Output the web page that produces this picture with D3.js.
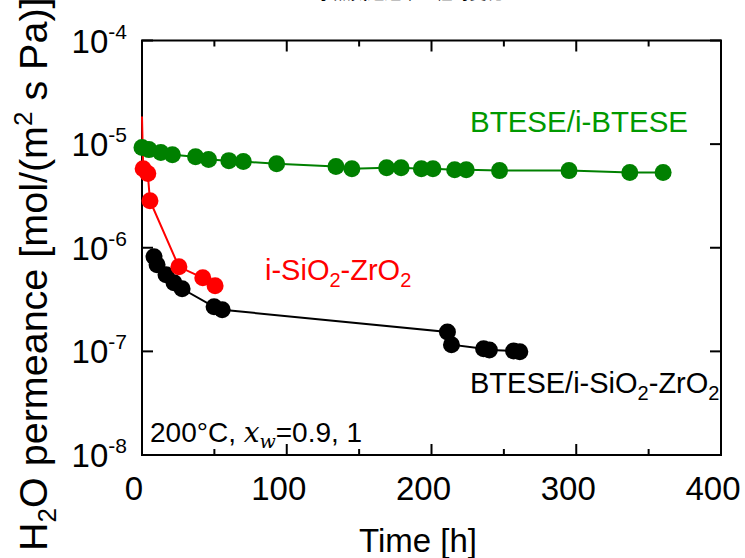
<!DOCTYPE html>
<html>
<head>
<meta charset="utf-8">
<script src="https://cdn.jsdelivr.net/npm/d3@7/dist/d3.min.js"></script>
<style>
  body { margin: 0; background: #fff; }
  svg { display: block; font-family: "Liberation Sans", Arial, sans-serif; }
</style>
</head>
<body>
<svg id="chart" width="745" height="558"></svg>
<script>
// time [h] and H2O permeance [mol/(m2 s Pa)]
var greenTime = [0, 4.8, 13, 21, 37, 46, 60, 70, 93, 134, 145, 169, 179, 193, 201, 216, 224, 247, 295, 337, 360],
    greenPerm = [9.3e-6, 8.85e-6, 8.3e-6, 7.9e-6, 7.57e-6, 7.1e-6, 6.93e-6, 6.78e-6, 6.48e-6, 6.07e-6, 5.8e-6,
                 5.93e-6, 5.93e-6, 5.8e-6, 5.8e-6, 5.67e-6, 5.67e-6, 5.55e-6, 5.55e-6, 5.31e-6, 5.31e-6];

var redTime = [0, 0.8, 4, 5.5, 25.5, 42, 50.5],
    redPerm = [1.85e-5, 5.8e-6, 5.2e-6, 2.84e-6, 6.55e-7, 5.13e-7, 4.3e-7];

var blackTime = [8.3, 10.4, 16.6, 22.1, 27.7, 49.8, 55.4, 211, 213.8, 236, 240, 256.7, 261],
    blackPerm = [8.19e-7, 6.85e-7, 5.49e-7, 4.59e-7, 4.02e-7, 2.69e-7, 2.52e-7, 1.54e-7, 1.16e-7, 1.06e-7, 1.03e-7, 1.01e-7, 9.9e-8];

var xTicks = [0, 100, 200, 300, 400],
    xMinor = [50, 150, 250, 350],
    yExponents = [-4, -5, -6, -7, -8];

var svg = d3.select('#chart');

var plotLeft = 142, plotRight = 721, plotTop = 40.5, plotBottom = 455;

var x = d3.scaleLinear().domain([0, 400]).range([plotLeft, plotRight]),
    y = d3.scaleLog().domain([1e-8, 1e-4]).range([plotBottom, plotTop]);

function zipIt( ts, vs ) {
  return ts.map( function(t, i) { return { t: t, v: vs[i] }; } );
}

// title, mostly cut off at the top edge in the original
svg.append('text')
  .attr('x', 410).attr('y', -1)
  .attr('text-anchor', 'middle')
  .style('font-family', '"Noto Sans CJK JP", sans-serif')
  .style('font-size', '17px')
  .text('水蒸気透過率の経時変化');

// frame
svg.append('rect')
  .attr('x', plotLeft).attr('y', plotTop)
  .attr('width', plotRight - plotLeft).attr('height', plotBottom - plotTop)
  .attr('fill', 'none').attr('stroke', '#000').attr('stroke-width', 2);

// inward ticks on all four sides
var tickG = svg.append('g').attr('stroke', '#000').attr('stroke-width', 2);
xTicks.forEach( function(d) {
  tickG.append('line').attr('x1', x(d)).attr('x2', x(d)).attr('y1', plotBottom).attr('y2', plotBottom - 11);
  tickG.append('line').attr('x1', x(d)).attr('x2', x(d)).attr('y1', plotTop).attr('y2', plotTop + 11);
} );
xMinor.forEach( function(d) {
  tickG.append('line').attr('x1', x(d)).attr('x2', x(d)).attr('y1', plotBottom).attr('y2', plotBottom - 6);
  tickG.append('line').attr('x1', x(d)).attr('x2', x(d)).attr('y1', plotTop).attr('y2', plotTop + 6);
} );
yExponents.forEach( function(e) {
  var yy = y(Math.pow(10, e));
  tickG.append('line').attr('x1', plotLeft).attr('x2', plotLeft + 11).attr('y1', yy).attr('y2', yy);
  tickG.append('line').attr('x1', plotRight).attr('x2', plotRight - 11).attr('y1', yy).attr('y2', yy);
} );

// x tick labels (sit a little left of their ticks in the original)
svg.selectAll('text.xlab')
  .data(xTicks).enter()
  .append('text')
    .attr('class', 'xlab')
    .attr('x', function(d) { return x(d) - 8; })
    .attr('y', plotBottom + 45)
    .attr('text-anchor', 'middle')
    .style('font-size', '33px')
    .text(function(d) { return d; });

// y tick labels 10^n
var ylab = svg.selectAll('text.ylab')
  .data(yExponents).enter()
  .append('text')
    .attr('class', 'ylab')
    .attr('x', plotLeft - 15)
    .attr('y', function(d) { return y(Math.pow(10, d)) + 12; })
    .attr('text-anchor', 'end');
ylab.append('tspan').style('font-size', '33px').text('10');
ylab.append('tspan').attr('dy', -14).style('font-size', '21px').text(function(d) { return d; });

// axis titles
svg.append('text')
  .attr('x', 418).attr('y', 552)
  .attr('text-anchor', 'middle')
  .style('font-size', '33px')
  .text('Time [h]');

var yt = svg.append('text')
  .attr('transform', 'translate(47,551) rotate(-90)')
  .style('font-size', '39.5px');
yt.append('tspan').text('H');
yt.append('tspan').attr('dy', 9).style('font-size', '26px').text('2');
yt.append('tspan').attr('dy', -9).text('O permeance [mol/(m');
yt.append('tspan').attr('dy', -15).style('font-size', '26px').text('2');
yt.append('tspan').attr('dy', 15).text(' s Pa)]');

// series
var series = [
  { data: zipIt(blackTime, blackPerm), color: '#000000', markFrom: 0 },
  { data: zipIt(redTime, redPerm), color: '#ff0000', markFrom: 1 },
  { data: zipIt(greenTime, greenPerm), color: '#008000', markFrom: 0 }
];

var line = d3.line()
  .x(function(d) { return x(d.t); })
  .y(function(d) { return y(d.v); });

series.forEach( function(s) {
  svg.append('path')
    .datum(s.data)
    .attr('d', line)
    .attr('fill', 'none')
    .attr('stroke', s.color)
    .attr('stroke-width', 2);
  svg.selectAll(null)
    .data(s.data.slice(s.markFrom)).enter()
    .append('circle')
      .attr('cx', function(d) { return x(d.t); })
      .attr('cy', function(d) { return y(d.v); })
      .attr('r', 8.5)
      .attr('fill', s.color);
} );

// series labels
svg.append('text')
  .attr('x', 470).attr('y', 132)
  .attr('fill', '#009900')
  .style('font-size', '29.5px')
  .text('BTESE/i-BTESE');

var rl = svg.append('text')
  .attr('x', 265).attr('y', 280)
  .attr('fill', '#ff0000')
  .style('font-size', '29px');
rl.append('tspan').text('i-SiO');
rl.append('tspan').attr('dy', 7).style('font-size', '20px').text('2');
rl.append('tspan').attr('dy', -7).text('-ZrO');
rl.append('tspan').attr('dy', 7).style('font-size', '20px').text('2');

var bl = svg.append('text')
  .attr('x', 470).attr('y', 393)
  .attr('fill', '#000')
  .style('font-size', '29px');
bl.append('tspan').text('BTESE/i-SiO');
bl.append('tspan').attr('dy', 7).style('font-size', '20px').text('2');
bl.append('tspan').attr('dy', -7).text('-ZrO');
bl.append('tspan').attr('dy', 7).style('font-size', '20px').text('2');

// conditions
var cond = svg.append('text')
  .attr('x', 150).attr('y', 442)
  .style('font-size', '28px');
cond.append('tspan').text('200\u00B0C, ');
cond.append('tspan').style('font-family', '"DejaVu Serif", "Liberation Serif", serif').style('font-style', 'italic').text('x');
cond.append('tspan').attr('dy', 6).style('font-family', '"DejaVu Serif", "Liberation Serif", serif').style('font-style', 'italic').style('font-size', '19px').text('w');
cond.append('tspan').attr('dy', -6).text('=0.9, 1');
</script>
</body>
</html>
